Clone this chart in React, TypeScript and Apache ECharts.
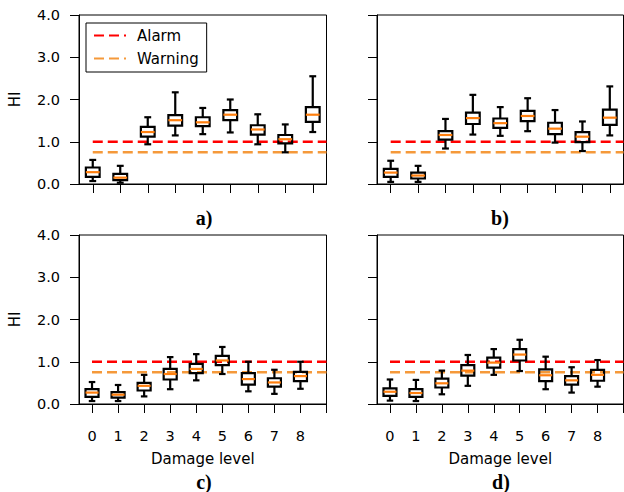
import React, { useEffect, useRef } from "react";
import * as echarts from "echarts";

// Damage levels (x categories)
const damageLevels = [0, 1, 2, 3, 4, 5, 6, 7, 8];
const xTicksTop = [0, 1, 2, 3, 4, 5, 6, 7, 8];
const xTicksBottom = [0, 1, 2, 3, 4, 5, 6, 7, 8, 9];
const yTicks = [0, 1, 2, 3, 4];

// Thresholds
const alarmLevel = 1.0;
const warningLevel = 0.75;

// Box stats per damage level: [min whisker, Q1, median, Q3, max whisker]
const panelA = [
  [0.07, 0.17, 0.28, 0.39, 0.57],
  [0.03, 0.09, 0.15, 0.24, 0.43],
  [0.94, 1.12, 1.23, 1.35, 1.58],
  [1.15, 1.38, 1.51, 1.63, 2.17],
  [1.18, 1.37, 1.46, 1.58, 1.8],
  [1.22, 1.51, 1.64, 1.75, 2.0],
  [0.94, 1.17, 1.29, 1.39, 1.65],
  [0.75, 0.96, 1.06, 1.16, 1.41],
  [1.23, 1.47, 1.64, 1.82, 2.55],
];
const panelB = [
  [0.05, 0.17, 0.27, 0.36, 0.55],
  [0.05, 0.13, 0.2, 0.27, 0.43],
  [0.84, 1.05, 1.16, 1.25, 1.54],
  [1.17, 1.42, 1.56, 1.69, 2.11],
  [1.14, 1.33, 1.44, 1.55, 1.82],
  [1.25, 1.49, 1.61, 1.73, 2.03],
  [0.98, 1.18, 1.31, 1.45, 1.75],
  [0.78, 0.99, 1.12, 1.23, 1.48],
  [1.15, 1.4, 1.57, 1.76, 2.31],
];
const panelC = [
  [0.07, 0.17, 0.27, 0.35, 0.52],
  [0.07, 0.15, 0.22, 0.28, 0.45],
  [0.18, 0.32, 0.43, 0.5, 0.69],
  [0.35, 0.58, 0.71, 0.83, 1.11],
  [0.56, 0.73, 0.83, 0.95, 1.18],
  [0.71, 0.92, 1.03, 1.14, 1.35],
  [0.3, 0.46, 0.59, 0.73, 1.0],
  [0.24, 0.41, 0.51, 0.61, 0.81],
  [0.36, 0.54, 0.66, 0.76, 1.0],
];
const panelD = [
  [0.08, 0.19, 0.29, 0.37, 0.58],
  [0.07, 0.17, 0.26, 0.35, 0.57],
  [0.23, 0.39, 0.49, 0.6, 0.79],
  [0.43, 0.67, 0.79, 0.92, 1.16],
  [0.69, 0.86, 0.98, 1.1, 1.3],
  [0.78, 1.03, 1.17, 1.3, 1.52],
  [0.35, 0.54, 0.68, 0.82, 1.12],
  [0.27, 0.46, 0.56, 0.66, 0.87],
  [0.41, 0.55, 0.69, 0.81, 1.04],
];
const panelLabels = ["a)", "b)", "c)", "d)"];

const BOX_W = 0.5;
const LINE_W = 2.2;
const FONT = "DejaVu Sans";

const renderBox = (params: any, api: any) => {
  const x = api.value(0);
  const lo = api.coord([x, api.value(1)]);
  const q1 = api.coord([x, api.value(2)]);
  const md = api.coord([x, api.value(3)]);
  const q3 = api.coord([x, api.value(4)]);
  const hi = api.coord([x, api.value(5)]);
  const bw = api.size([BOX_W, 0])[0];
  const cx = lo[0];
  const hb = bw / 2;
  const hc = bw / 4;
  const st = { stroke: "#000", lineWidth: LINE_W, fill: "none" };
  return {
    type: "group",
    children: [
      { type: "line", shape: { x1: cx, y1: hi[1], x2: cx, y2: q3[1] }, style: st },
      { type: "line", shape: { x1: cx, y1: q1[1], x2: cx, y2: lo[1] }, style: st },
      { type: "line", shape: { x1: cx - hc, y1: hi[1], x2: cx + hc, y2: hi[1] }, style: st },
      { type: "line", shape: { x1: cx - hc, y1: lo[1], x2: cx + hc, y2: lo[1] }, style: st },
      { type: "rect", shape: { x: cx - hb, y: q3[1], width: bw, height: q1[1] - q3[1] }, style: st },
      { type: "line", shape: { x1: cx - hb, y1: md[1], x2: cx + hb, y2: md[1] }, style: { stroke: "#ff7f0e", lineWidth: LINE_W } },
    ],
  };
};

export default function App() {
  const ref = useRef<HTMLDivElement>(null);
  useEffect(() => {
    if (!ref.current) return;
    const chart = echarts.init(ref.current, undefined, { renderer: "svg" });
    const panels = [panelA, panelB, panelC, panelD];
    const grids = [
      { left: 79, top: 15, width: 247.5, height: 169 },
      { left: 377, top: 15, width: 246.5, height: 169 },
      { left: 79, top: 235, width: 247.5, height: 169 },
      { left: 377, top: 235, width: 246.5, height: 169 },
    ];
    const xMax = [8.5, 8.5, 9, 9];
    const xAxis = grids.map((_, i) => {
      const bottom = i >= 2;
      return {
        type: "value",
        gridIndex: i,
        min: -0.5,
        max: xMax[i],
        name: bottom ? "Damage level" : "",
        nameLocation: "middle",
        nameGap: 47,
        nameTextStyle: { color: "#000", fontSize: 15, fontFamily: FONT },
        splitLine: { show: false },
        axisLine: { show: true, onZero: false, lineStyle: { color: "#000", width: 1 } },
        axisTick: {
          show: true,
          length: 9,
          inside: false,
          customValues: bottom ? xTicksBottom : xTicksTop,
          lineStyle: { color: "#000", width: 1 },
        },
        axisLabel: {
          show: bottom,
          customValues: damageLevels,
          margin: 24,
          color: "#000",
          fontSize: 14.5,
          fontFamily: FONT,
        },
      };
    });
    const yAxis = grids.map((_, i) => {
      const left = i % 2 === 0;
      return {
        type: "value",
        gridIndex: i,
        min: 0,
        max: 4,
        interval: 1,
        name: left ? "HI" : "",
        nameLocation: "middle",
        nameGap: 57,
        nameTextStyle: { color: "#000", fontSize: 15, fontFamily: FONT },
        splitLine: { show: false },
        axisLine: { show: true, onZero: false, lineStyle: { color: "#000", width: 1 } },
        axisTick: { show: true, length: 9, customValues: yTicks, lineStyle: { color: "#000", width: 1 } },
        axisLabel: {
          show: left,
          margin: 19,
          color: "#000",
          fontSize: 14.5,
          fontFamily: FONT,
          formatter: (v: number) => v.toFixed(1),
        },
      };
    });
    const series: any[] = [];
    panels.forEach((p, i) => {
      series.push({
        name: "Alarm",
        type: "line",
        xAxisIndex: i,
        yAxisIndex: i,
        symbol: "none",
        z: 2,
        lineStyle: { color: "#ff0000", width: 2.5, type: [10, 5] },
        itemStyle: { color: "#ff0000" },
        data: [
          [0, alarmLevel],
          [xMax[i], alarmLevel],
        ],
      });
      series.push({
        name: "Warning",
        type: "line",
        xAxisIndex: i,
        yAxisIndex: i,
        symbol: "none",
        z: 2,
        lineStyle: { color: "#f5993a", width: 2.5, type: [10, 5] },
        itemStyle: { color: "#f5993a" },
        data: [
          [0, warningLevel],
          [xMax[i], warningLevel],
        ],
      });
      series.push({
        type: "custom",
        xAxisIndex: i,
        yAxisIndex: i,
        z: 3,
        renderItem: renderBox,
        encode: { x: 0, y: [1, 2, 3, 4, 5] },
        data: damageLevels.map((d, k) => [d, ...p[k]]),
      });
    });
    const labelPos = [
      [204, 218],
      [500, 218],
      [204, 482],
      [501, 482],
    ];
    chart.setOption({
      animation: false,
      backgroundColor: "#fff",
      grid: grids.map((g) => ({ ...g, show: true, borderColor: "#000", borderWidth: 1, backgroundColor: "transparent" })),
      xAxis,
      yAxis,
      legend: {
        data: ["Alarm", "Warning"],
        orient: "vertical",
        left: 86,
        top: 23,
        padding: [5, 8, 6, 7],
        itemGap: 8,
        itemWidth: 32,
        itemHeight: 14,
        borderColor: "#000",
        borderWidth: 1,
        borderRadius: 0,
        backgroundColor: "#fff",
        itemStyle: { opacity: 0 },
        textStyle: { color: "#000", fontSize: 15, fontFamily: FONT, padding: [0, 0, 0, 6] },
      },
      graphic: panelLabels.map((t, i) => ({
        type: "text",
        x: labelPos[i][0],
        y: labelPos[i][1],
        style: {
          text: t,
          fill: "#000",
          font: "bold 20px 'Liberation Serif'",
          textAlign: "center",
          textVerticalAlign: "middle",
        },
      })),
      series,
    });
    return () => chart.dispose();
  }, []);
  return (
    <div
      ref={ref}
      style={{ position: "fixed", left: 0, top: 0, width: 624, height: 492, background: "#fff" }}
    />
  );
}
